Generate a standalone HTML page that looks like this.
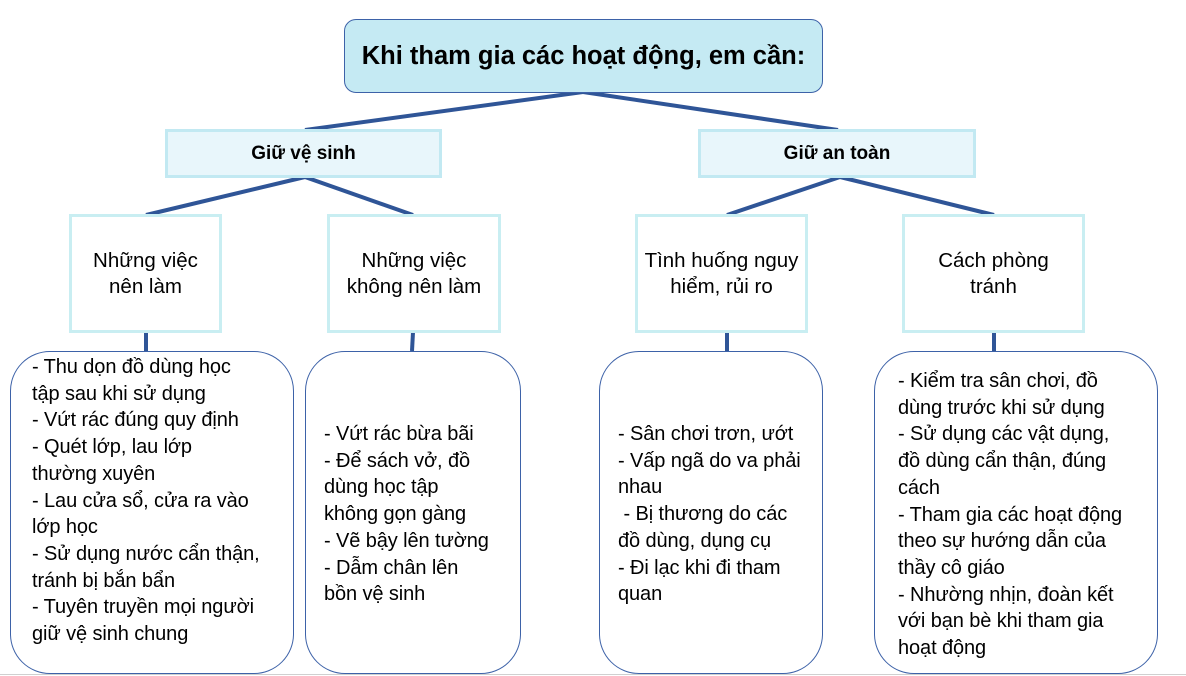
<!DOCTYPE html>
<html><head><meta charset="utf-8"><style>
body{margin:0;width:1186px;height:676px;background:#fff;position:relative;overflow:hidden;font-family:"Liberation Sans","DejaVu Sans",sans-serif;color:#000}
.a{position:absolute;box-sizing:border-box}
.t{position:absolute;font-size:20px;line-height:26.7px;white-space:nowrap;letter-spacing:-0.1px}
.c{display:flex;align-items:center;justify-content:center;text-align:center}
.l3{border:3px solid #c9eef2;background:#fff;font-size:20.5px;line-height:26px;letter-spacing:0}
.l2{border:3px solid #c2e9f2;background:#e8f6fb;font-weight:bold;font-size:19px}
.bx{border:1.3px solid #3d62a8;border-radius:40px;background:#fff}
</style></head><body>
<svg class="a" style="left:0;top:0" width="1186" height="676">
<g stroke="#2f5597" stroke-width="4" fill="none">
<line x1="583" y1="92" x2="305" y2="130"/><line x1="583" y1="92" x2="838" y2="130"/>
<line x1="305" y1="177" x2="146" y2="215"/><line x1="305" y1="177" x2="413" y2="215"/>
<line x1="840" y1="177" x2="727" y2="215"/><line x1="840" y1="177" x2="994" y2="215"/>
<line x1="146" y1="332" x2="146" y2="351"/><line x1="413" y1="332" x2="412" y2="351"/>
<line x1="727" y1="332" x2="727" y2="351"/><line x1="994" y1="332" x2="994" y2="351"/>
</g>
<line x1="0" y1="674.5" x2="1186" y2="674.5" stroke="#d0d0d0" stroke-width="1"/>
</svg>
<div class="a c" style="left:344px;top:19px;width:479px;height:74px;background:#c5eaf3;border:1.3px solid #3d62a8;border-radius:12px;font-weight:bold;font-size:25.5px">Khi tham gia các hoạt động, em cần:</div>
<div class="a c l2" style="left:165px;top:129px;width:277px;height:49px">Giữ vệ sinh</div>
<div class="a c l2" style="left:698px;top:129px;width:278px;height:49px">Giữ an toàn</div>
<div class="a c l3" style="left:69px;top:214px;width:153px;height:119px">Những việc<br>nên làm</div>
<div class="a c l3" style="left:327px;top:214px;width:174px;height:119px">Những việc<br>không nên làm</div>
<div class="a c l3" style="left:635px;top:214px;width:173px;height:119px">Tình huống nguy<br>hiểm, rủi ro</div>
<div class="a c l3" style="left:902px;top:214px;width:183px;height:119px">Cách phòng<br>tránh</div>
<div class="a bx" style="left:10px;top:351px;width:284px;height:323px"></div>
<div class="a bx" style="left:305px;top:351px;width:216px;height:323px"></div>
<div class="a bx" style="left:599px;top:351px;width:224px;height:323px"></div>
<div class="a bx" style="left:874px;top:351px;width:284px;height:323px"></div>
<div class="t" style="left:32px;top:354px">- Thu dọn đồ dùng học<br>tập sau khi sử dụng<br>- Vứt rác đúng quy định<br>- Quét lớp, lau lớp<br>thường xuyên<br>- Lau cửa sổ, cửa ra vào<br>lớp học<br>- Sử dụng nước cẩn thận,<br>tránh bị bắn bẩn<br>- Tuyên truyền mọi người<br>giữ vệ sinh chung</div>
<div class="t" style="left:324px;top:421px">- Vứt rác bừa bãi<br>- Để sách vở, đồ<br>dùng học tập<br>không gọn gàng<br>- Vẽ bậy lên tường<br>- Dẫm chân lên<br>bồn vệ sinh</div>
<div class="t" style="left:618px;top:421px">- Sân chơi trơn, ướt<br>- Vấp ngã do va phải<br>nhau<br>&nbsp;- Bị thương do các<br>đồ dùng, dụng cụ<br>- Đi lạc khi đi tham<br>quan</div>
<div class="t" style="left:898px;top:368px">- Kiểm tra sân chơi, đồ<br>dùng trước khi sử dụng<br>- Sử dụng các vật dụng,<br>đồ dùng cẩn thận, đúng<br>cách<br>- Tham gia các hoạt động<br>theo sự hướng dẫn của<br>thầy cô giáo<br>- Nhường nhịn, đoàn kết<br>với bạn bè khi tham gia<br>hoạt động</div>
</body></html>
